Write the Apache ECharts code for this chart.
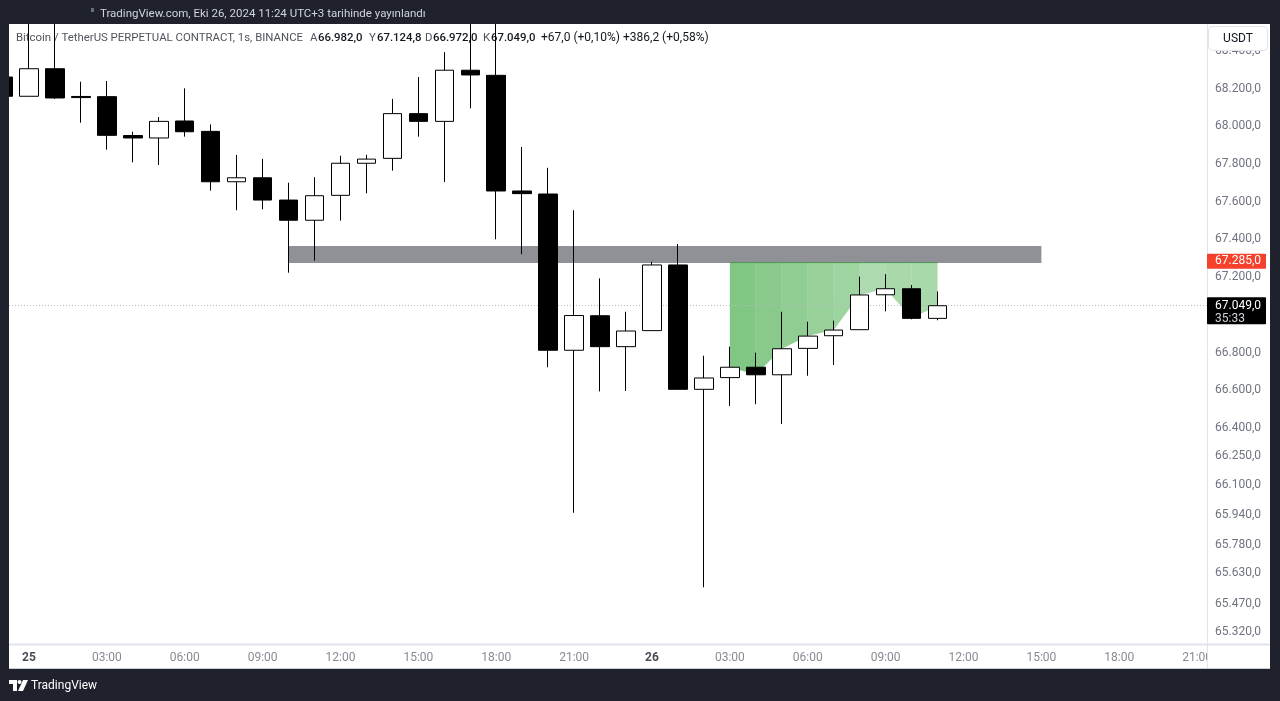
<!DOCTYPE html>
<html><head><meta charset="utf-8">
<script src="https://cdn.jsdelivr.net/npm/echarts@6/dist/echarts.min.js"></script>
<style>
html,body{margin:0;padding:0;background:#1f222c;overflow:hidden;}
#wrap{position:relative;width:1280px;height:701px;}
#paper{position:absolute;left:9px;top:24px;width:1261px;height:645px;background:#ffffff;}
#c{position:absolute;left:0;top:0;width:1280px;height:701px;}
</style>
</head><body><div id="wrap"><div id="paper"></div><div id="c"></div></div>
<script>
// ---- data (hours relative to 25 Oct 00:00) ----
const hours  = [-1,0,1,2,3,4,5,6,7,8,9,10,11,12,13,14,15,16,17,18,19,20,21,22,23,24,25,26,27,28,29,30,31,32,33,34,35];
const opens  = [68261,68159,68305,68158,68157,67951,67938,68028,67973,67706,67727,67609,67502,67634,67804,67830,68067,68026,68297,68270,67657,67641,66813,66996,66832,66917,67265,66606,66668,66723,66683,66823,66890,66922,67107,67139,66982];
const closes = [68159,68305,68150,68152,67952,67938,68026,67971,67706,67727,67609,67502,67632,67804,67826,68067,68026,68297,68272,67657,67643,66813,66997,66832,66915,67265,66606,66666,66723,66683,66821,66888,66920,67106,67139,66982,67049];
const lows   = [68140,68159,68145,68019,67876,67809,67795,67945,67659,67555,67560,67224,67288,67500,67645,67765,67945,67705,68095,67401,67322,66723,65952,66595,66597,66917,66606,65557,66518,66527,66422,66678,66735,66922,67019,66977,66972];
const highs  = [68290,68650,68650,68236,68240,67971,68049,68201,68010,67848,67827,67701,67730,67844,67849,68145,68261,68393,68650,68650,67890,67780,67555,67194,67017,67282,67376,66784,66832,66800,67017,66964,66970,67203,67216,67159,67124.8];

const timeTickHours = [0,3,6,9,12,15,18,21,24,27,30,33,36,39,42,45];
const dayNames = ['25','26'];
const priceTicks = [68400,68200,68000,67800,67600,67400,67200,67000,66800,66600,66400,66250,66100,65940,65780,65630,65470,65320];

const zoneHours  = [10, 39];
const zonePrices = [67276, 67365];
const fillHours  = [27,28,29,30,31,32,33,34,35];
const fillTop    = 67280;
const alertPrice = 67285;
const lastPrice  = 67049;
const countdown  = '35:33';

const headerText = 'TradingView.com, Eki 26, 2024 11:24 UTC+3 tarihinde yayınlandı';
const symbolText = 'Bitcoin / TetherUS PERPETUAL CONTRACT, 1s, BINANCE';
const ohlcLabels = ['A','Y','D','K'];
const ohlcValues = ['66.982,0','67.124,8','66.972,0','67.049,0'];
const changeTexts = ['+67,0 (+0,10%)','+386,2 (+0,58%)'];

// ---- helpers ----
function fmtPrice(v){
  const s = Number(v).toFixed(1); const p = s.split('.');
  return p[0].replace(/\B(?=(\d{3})+(?!\d))/g,'.') + ',' + p[1];
}
const FONT = 'Roboto';
const DARK = '#1f222c';
const fillAlphas = [0.70,0.66,0.62,0.58,0.54,0.46,0.48,0.48];

const candleData = hours.map((h,i)=>[h, opens[i], closes[i], lows[i], highs[i]]);
const fillData = [];
for (let i=0;i<fillHours.length-1;i++){
  const a = hours.indexOf(fillHours[i]), b = hours.indexOf(fillHours[i+1]);
  fillData.push([fillHours[i], fillHours[i+1], closes[a], closes[b], i]);
}

const chart = echarts.init(document.getElementById('c'), null, {renderer:'canvas'});
const option = {
  backgroundColor: 'transparent',
  animation: false,
  grid: {left: 9, right: 73, top: 24, bottom: 56},
  xAxis: {
    type: 'value', min: -0.77, max: 45.38,
    axisLine: {show:false}, axisTick: {show:false}, splitLine: {show:false},
    axisLabel: {
      customValues: timeTickHours, margin: 7, fontFamily: FONT, fontSize: 12, color: '#878a94',
      formatter: function(v){
        const r = Math.round(v); const hh = ((r%24)+24)%24;
        if (hh === 0) return '{day|' + dayNames[Math.floor(r/24)] + '}';
        return String(hh).padStart(2,'0') + ':00';
      },
      rich: {day: {fontWeight: 'bold', color: '#4a4d57', fontFamily: FONT, fontSize: 12}}
    }
  },
  yAxis: {
    type: 'value', position: 'right', min: 65251, max: 68542, scale: true,
    axisLine: {show:false}, axisTick: {show:false}, splitLine: {show:false},
    axisLabel: {customValues: priceTicks, margin: 8, fontFamily: FONT, fontSize: 12, color: '#707380', formatter: fmtPrice}
  },
  series: [
    {
      type: 'line', data: [], z: 1, silent: true,
      markArea: {silent: true, itemStyle: {color: '#909196'},
        data: [[{xAxis: zoneHours[0], yAxis: zonePrices[1]}, {xAxis: zoneHours[1], yAxis: zonePrices[0]}]]},
      markLine: {silent: true, symbol: 'none', label: {show:false},
        lineStyle: {color: '#b8bac2', type: [1,2], width: 1}, data: [{yAxis: lastPrice}]}
    },
    {
      type: 'custom', z: 2, silent: true, data: fillData, encode: {x: [0,1], y: [2,3]},
      renderItem: function(params, api){
        const x0 = api.value(0), x1 = api.value(1), c0 = api.value(2), c1 = api.value(3), k = api.value(4);
        const p0 = api.coord([x0, fillTop]), p1 = api.coord([x1, fillTop]);
        const p2 = api.coord([x1, c1]), p3 = api.coord([x0, c0]);
        return {type: 'group', children: [
          {type: 'polygon', shape: {points: [p0,p1,p2,p3]}, style: {fill: 'rgba(76,175,80,' + fillAlphas[k] + ')'}},
          {type: 'line', shape: {x1: p0[0], y1: p0[1]+0.5, x2: p1[0], y2: p1[1]+0.5}, style: {stroke: 'rgba(56,142,60,0.55)', lineWidth: 1}}
        ]};
      }
    },
    {
      type: 'candlestick', z: 5, barWidth: 19, clip: true, data: candleData,
      itemStyle: {color: '#ffffff', color0: '#000000', borderColor: '#000000', borderColor0: '#000000', borderWidth: 1}
    }
  ]
};
chart.setOption(option);

const yAlert = chart.convertToPixel({yAxisIndex: 0}, alertPrice);
const yLast = chart.convertToPixel({yAxisIndex: 0}, lastPrice);

const g = [];
// dark frame bands (cover overflow outside plot)
g.push({type:'rect', z:50, shape:{x:0,y:0,width:1280,height:24}, style:{fill:DARK}});
g.push({type:'rect', z:50, shape:{x:0,y:0,width:9,height:701}, style:{fill:DARK}});
// frame separators
g.push({type:'line', z:100, shape:{x1:1207.5,y1:24,x2:1207.5,y2:669}, style:{stroke:'#e0e3eb',lineWidth:1}});
g.push({type:'rect', z:99, shape:{x:1208,y:646,width:62,height:22}, style:{fill:'#ffffff'}});
g.push({type:'line', z:100, shape:{x1:9,y1:644.5,x2:1270,y2:644.5}, style:{stroke:'#e0e3eb',lineWidth:2}});
g.push({type:'line', z:100, shape:{x1:9,y1:668.5,x2:1270,y2:668.5}, style:{stroke:'#c9ccd3',lineWidth:1}});
// top header
g.push({type:'text', z:100, style:{x:100,y:14,text:headerText,fill:'#d1d4dc',font:'11.5px '+FONT,textVerticalAlign:'middle'}});
g.push({type:'rect', z:100, shape:{x:91,y:8,width:3,height:4}, style:{fill:'#6b6f7a'}});
// symbol line
g.push({type:'text', z:1, style:{x:16,y:38,text:symbolText,fill:'#50535e',font:'11.4px '+FONT,textVerticalAlign:'middle'}});
const lx = [310,369,425,483], vx = [318,377,433,491];
for (let i=0;i<4;i++){
  g.push({type:'text', z:1, style:{x:lx[i],y:38,text:ohlcLabels[i],fill:'#50535e',font:'11.4px '+FONT,textVerticalAlign:'middle'}});
  g.push({type:'text', z:1, style:{x:vx[i],y:38,text:ohlcValues[i],fill:'#131722',font:'500 11.4px '+FONT,textVerticalAlign:'middle'}});
}
g.push({type:'text', z:1, style:{x:541,y:38,text:changeTexts[0],fill:'#131722',font:'12px '+FONT,textVerticalAlign:'middle'}});
g.push({type:'text', z:1, style:{x:623,y:38,text:changeTexts[1],fill:'#131722',font:'12px '+FONT,textVerticalAlign:'middle'}});
// USDT box
g.push({type:'rect', z:100, shape:{x:1208.5,y:26.5,width:59,height:24,r:4}, style:{fill:'#ffffff',stroke:'#e0e3eb',lineWidth:1}});
g.push({type:'text', z:101, style:{x:1238,y:39,text:'USDT',fill:'#131722',font:'12px '+FONT,textAlign:'center',textVerticalAlign:'middle'}});
// alert label
g.push({type:'rect', z:100, shape:{x:1207,y:yAlert-7.5,width:59,height:15,r:1}, style:{fill:'#f5402c'}});
g.push({type:'text', z:101, style:{x:1215,y:yAlert,text:fmtPrice(alertPrice),fill:'#ffffff',font:'12px '+FONT,textVerticalAlign:'middle'}});
// last price label
g.push({type:'rect', z:100, shape:{x:1207,y:yLast-8.5,width:59,height:27,r:1}, style:{fill:'#000000'}});
g.push({type:'text', z:101, style:{x:1215,y:yLast,text:fmtPrice(lastPrice),fill:'#ffffff',font:'12px '+FONT,textVerticalAlign:'middle'}});
g.push({type:'text', z:101, style:{x:1215,y:yLast+13,text:countdown,fill:'#d1d4dc',font:'12px '+FONT,textVerticalAlign:'middle'}});
// bottom logo
g.push({type:'polygon', z:100, shape:{points:[[9,680],[17,680],[17,691],[13,691],[13,684],[9,684]]}, style:{fill:'#ffffff'}});
g.push({type:'circle', z:100, shape:{cx:19.5,cy:682,r:2}, style:{fill:'#ffffff'}});
g.push({type:'polygon', z:100, shape:{points:[[23,680],[28,680],[23,691],[18,691]]}, style:{fill:'#ffffff'}});
g.push({type:'text', z:100, style:{x:31,y:686,text:'TradingView',fill:'#ffffff',font:'12px '+FONT,textVerticalAlign:'middle'}});

chart.setOption({graphic: {elements: g}});
</script>
</body></html>
